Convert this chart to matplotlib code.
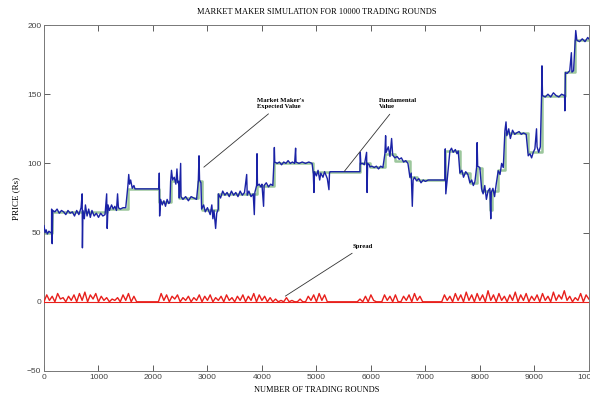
import matplotlib
matplotlib.use("Agg")
import matplotlib.pyplot as plt

# expected value of the market maker (rounds, price)
mm_rounds = [0, 20, 40, 60, 90, 120, 138,
             140, 150, 160, 200, 240, 280, 320, 360, 400, 440, 480, 520, 560, 600, 640, 680,
             700, 705, 715, 740, 760, 790, 820, 850, 880, 920, 960, 1000, 1040, 1080, 1120,
             1150, 1160, 1175, 1200, 1240, 1270, 1300, 1330, 1350, 1365, 1400, 1450, 1500,
             1540, 1555, 1570, 1590, 1620, 1650, 1670, 2110,
             2116, 2122, 2140, 2170, 2200, 2230, 2260, 2290, 2312,
             2324, 2340, 2360, 2390, 2420, 2440, 2455, 2470,
             2483, 2508, 2515, 2550, 2600, 2650, 2700, 2750, 2800,
             2832, 2845, 2855, 2880,
             2893, 2930, 2960, 3000, 3050, 3080, 3100, 3120, 3150, 3170, 3199,
             3200, 3240, 3280, 3320, 3360, 3400, 3440, 3480, 3520, 3560, 3600, 3640, 3680,
             3720, 3730, 3760, 3800, 3840, 3860, 3870,
             3902, 3910, 3918, 3950, 3980, 4000, 4030, 4040, 4080, 4120, 4160, 4200,
             4220, 4228, 4235, 4280, 4320, 4360, 4400, 4440, 4480, 4520, 4560, 4600,
             4618, 4625, 4680, 4740, 4800, 4860, 4920,
             4942, 4955, 4965, 5000, 5030, 5060, 5080, 5120, 5150, 5200, 5230, 5240, 5250,
             5799, 5805, 5815, 5850, 5880, 5921, 5930, 5940, 5970,
             5982, 6020, 6060, 6100, 6140, 6180, 6220,
             6257, 6270, 6280, 6320, 6350, 6380, 6400,
             6441, 6480, 6520, 6560, 6600, 6640, 6680,
             6716, 6740, 6760, 6775, 6800,
             6839, 6880, 6920, 6960, 7000, 7052, 7358,
             7365, 7375, 7400, 7450, 7480, 7510, 7550, 7580, 7603,
             7634, 7670, 7700, 7740, 7780,
             7817, 7850, 7880, 7910, 7940, 7950, 7960, 8000,
             8032, 8060, 8090, 8120, 8150, 8184, 8200, 8210, 8240, 8270, 8300,
             8337, 8370, 8400, 8430,
             8460, 8480, 8495, 8530, 8560, 8600, 8640, 8674, 8720, 8760, 8800, 8850,
             8888, 8920, 8950, 8980, 9010, 9040, 9050, 9080, 9110,
             9132, 9140, 9150, 9200, 9250, 9300, 9350, 9400, 9450, 9500, 9555,
             9560, 9570, 9600, 9650, 9680, 9690, 9720,
             9745, 9760, 9780, 9830, 9880, 9930, 9980, 10000]
mm_prices = [55, 50, 52, 49, 51, 50, 50,
             67, 42, 66, 65, 67, 64, 66, 65, 63, 66, 64, 65, 62, 66, 63, 68,
             78, 39, 66, 60, 70, 62, 67, 61, 66, 62, 64, 61, 64, 62, 63,
             78, 53, 70, 66, 70, 67, 69, 66, 78, 68, 67, 68, 68,
             84, 92, 85, 88, 82, 84, 81.6, 81.6,
             93, 62, 74, 70, 73, 69, 74, 71, 72,
             87, 95, 88, 90, 85, 96, 86, 87,
             75, 100, 76, 74, 76, 73, 76, 75, 74,
             87, 105.5, 88, 86,
             67, 70, 65, 68, 63, 70, 60, 66, 53, 64, 67,
             78, 75, 80, 77, 79, 76, 80, 77, 79, 76, 80, 77, 79,
             92, 77, 80, 76, 78, 63, 79,
             84, 107, 84, 85, 83, 85, 69, 84, 86, 83, 85, 84,
             100.6, 111.5, 101, 100, 101, 99, 101, 100, 102, 100, 101, 100,
             111, 101, 100, 101, 100, 101, 100,
             93.4, 79, 94, 91, 95, 88, 93, 90, 94, 89, 81, 93, 94,
             94, 108, 99.7, 100, 99, 108, 79, 100, 99,
             97.5, 98, 97, 98, 96, 98, 97,
             107, 120, 108, 112, 105, 118, 106,
             104, 105, 103, 104, 101, 102, 100,
             90, 93, 69, 88, 90,
             87.4, 89, 86, 88, 87, 88, 88,
             110.5, 78, 88, 109, 111, 108, 110, 107, 109,
             93, 95, 90, 94, 92,
             86, 88, 84, 87, 97, 115, 98, 97,
             81.6, 78, 84, 74, 80, 82, 60, 79, 82, 76, 85,
             94.7, 92, 100, 97,
             123.6, 130, 120, 125, 118, 124, 121, 122, 123, 121, 122, 121,
             105.5, 107, 104, 108, 110.5, 125, 112, 108, 112,
             148, 170.5, 149, 148, 150, 148, 151, 149, 148, 150, 149,
             138, 165.7, 165, 167, 180, 166, 167,
             185, 196, 189, 188, 190, 188, 191, 190]

# fundamental value: level changes (round where level starts, level)
fund_rounds = [0, 140, 1150, 1540, 2116, 2324, 2483, 2832, 2893, 3200, 3902, 4220,
               4942, 5799, 5982, 6257, 6441, 6716, 6839, 7358, 7634, 7817, 7940,
               8032, 8180, 8220, 8337, 8460, 8888, 9132, 9560, 9745, 10000]
fund_levels = [50, 65, 67, 81.6, 72, 87, 75, 87, 66, 78, 84, 100.6,
               94, 100, 97.5, 107, 102, 90, 88, 109, 93, 86, 97,
               80, 66, 80, 95, 122, 108, 149, 166, 189, 189]

# bid-ask spread, sampled every 50 rounds
spread_rounds = list(range(0, 10001, 50))
spread_vals = [0, 5, 1, 4, 0, 6, 2, 3, 0, 4, 1, 5, 0, 6, 1, 7, 0, 5, 2, 6,
               0, 4, 1, 3, 0, 2, 1, 3, 0, 5, 1, 6, 0, 4, 0, 0, 0, 0, 0, 0,
               0, 0, 0, 6, 1, 5, 0, 4, 2, 5, 0, 3, 1, 4, 0, 3, 1, 5, 0, 4,
               1, 5, 0, 3, 1, 4, 0, 5, 1, 3, 0, 4, 1, 5, 0, 4, 1, 6, 0, 5,
               1, 4, 0, 3, 0, 2, 0, 1, 0, 3, 0, 1, 0, 0, 2, 0, 0, 4, 1, 5,
               0, 6, 1, 5, 0, 0, 0, 0, 0, 0, 0, 0, 0, 0, 0, 0, 2, 0, 4, 0,
               5, 1, 0, 0, 0, 5, 1, 4, 0, 5, 0, 0, 4, 1, 5, 0, 6, 1, 4, 0,
               0, 0, 0, 0, 0, 0, 0, 5, 1, 4, 0, 6, 1, 5, 0, 7, 1, 5, 0, 6,
               1, 5, 0, 8, 1, 5, 0, 6, 1, 4, 0, 5, 1, 7, 0, 5, 1, 6, 0, 4,
               1, 5, 0, 6, 1, 4, 0, 7, 1, 5, 2, 8, 1, 4, 0, 3, 1, 6, 0, 5, 2]

serif = ["Liberation Serif", "DejaVu Serif"]

fig = plt.figure(figsize=(5.9, 3.99), dpi=100)
ax = fig.add_axes([0.0746, 0.0702, 0.9234, 0.8671])

ax.step(fund_rounds, fund_levels, where="post", color="#9cc79c", lw=1.8, zorder=2)
ax.plot(mm_rounds, mm_prices, color="#1a22a6", lw=1.0, zorder=3)
ax.axhline(0, color="#e8201c", lw=0.8, zorder=3)
ax.plot(spread_rounds, spread_vals, color="#e8201c", lw=1.0, zorder=4)

ax.set_xlim(0, 10000)
ax.set_ylim(-50, 200)
ax.set_xticks(range(0, 10001, 1000))
ax.set_yticks(range(-50, 201, 50))
ax.tick_params(direction="in", length=4, width=0.6, top=True, right=True,
               labelsize=6, colors="#444444", pad=2)
for lab in ax.get_xticklabels() + ax.get_yticklabels():
    lab.set_family("Liberation Sans")
for s in ax.spines.values():
    s.set_color("#777777")
    s.set_linewidth(0.7)

ax.set_title("MARKET MAKER SIMULATION FOR 10000 TRADING ROUNDS",
             family=serif, fontsize=6, pad=8)
ax.set_xlabel("NUMBER OF TRADING ROUNDS", family=serif, fontsize=6, labelpad=4)
ax.set_ylabel("PRICE (Rs)", family=serif, fontsize=6.5, labelpad=5)

arrow = dict(arrowstyle="-", color="#333333", lw=0.6)
ax.annotate("Market Maker's\nExpected Value", xy=(2894, 96), xytext=(3909, 143),
            family=serif, fontsize=4.8, fontweight="bold", va="center",
            arrowprops=arrow)
ax.annotate("Fundamental\nValue", xy=(5481, 92.7), xytext=(6147, 143),
            family=serif, fontsize=4.8, fontweight="bold", va="center",
            arrowprops=arrow)
ax.annotate("Spread", xy=(4386, 3), xytext=(5664, 40),
            family=serif, fontsize=4.8, fontweight="bold", va="center",
            arrowprops=arrow)

plt.savefig("out.png", dpi=100)
